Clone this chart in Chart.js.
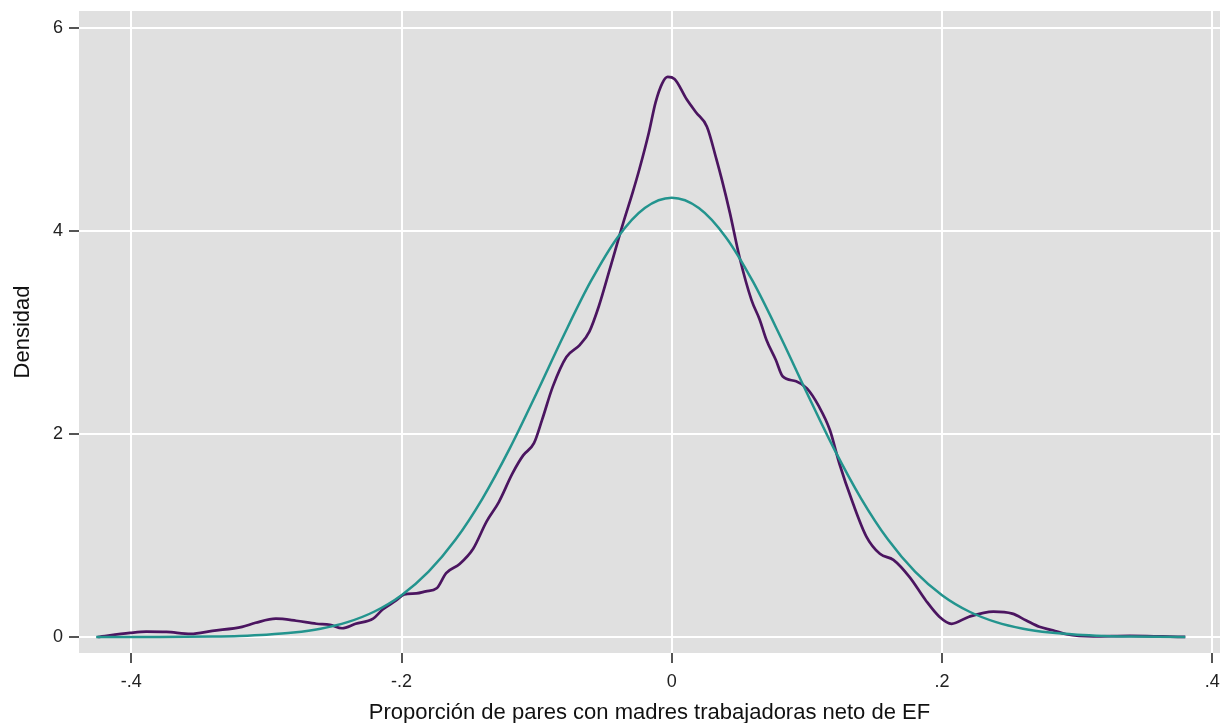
<!DOCTYPE html>
<html>
<head>
<meta charset="utf-8">
<script src="https://cdn.jsdelivr.net/npm/chart.js@4"></script>
<style>
  html, body { margin: 0; padding: 0; background: #fff; }
  #densCanvas { display: block; }
</style>
</head>
<body>
<canvas id="densCanvas" width="1220" height="723"></canvas>
<script>
/* ── Data ────────────────────────────────────────── */

// Kernel density of the share
const kdensX = [
  -0.425, -0.401, -0.389, -0.374, -0.356, -0.340, -0.318, -0.308, -0.293, -0.278,
  -0.263, -0.253, -0.244, -0.234, -0.221, -0.214, -0.204, -0.198, -0.189, -0.182,
  -0.174, -0.167, -0.157, -0.147, -0.137, -0.128, -0.118, -0.110, -0.102, -0.096,
  -0.088, -0.078, -0.068, -0.061, -0.054, -0.046, -0.036, -0.029, -0.024, -0.017,
  -0.012, -0.007, -0.003,  0.002,  0.011,  0.018,  0.026,  0.033,  0.037,  0.043,
   0.050,  0.059,  0.065,  0.070,  0.077,  0.082,  0.092,  0.100,  0.109,  0.117,
   0.124,  0.134,  0.144,  0.154,  0.164,  0.176,  0.188,  0.198,  0.207,  0.220,
   0.238,  0.252,  0.262,  0.272,  0.282,  0.292,  0.312,  0.339,  0.363,  0.380,
];
const kdensY = [
  0.00, 0.04, 0.053, 0.05, 0.03, 0.06, 0.10, 0.14, 0.18, 0.16,
  0.13, 0.12, 0.086, 0.13, 0.18, 0.27, 0.36, 0.42, 0.43, 0.45,
  0.48, 0.63, 0.72, 0.87, 1.14, 1.33, 1.61, 1.79, 1.91, 2.14,
  2.47, 2.76, 2.88, 3.01, 3.26, 3.62, 4.08, 4.38, 4.61, 4.97,
  5.27, 5.46, 5.52, 5.50, 5.30, 5.17, 5.03, 4.71, 4.51, 4.18,
  3.75, 3.32, 3.13, 2.93, 2.73, 2.57, 2.52, 2.45, 2.27, 2.04,
  1.71, 1.32, 0.99, 0.82, 0.76, 0.59, 0.36, 0.20, 0.13, 0.20,
  0.25, 0.23, 0.165, 0.10, 0.066, 0.027, 0.005, 0.01, 0.005, 0.00,
];

// Normal density overlay
const normX = [
  -0.426, -0.42, -0.40, -0.38, -0.36, -0.34, -0.32, -0.30, -0.28, -0.26,
  -0.24, -0.22, -0.20, -0.18, -0.16, -0.14, -0.12, -0.10, -0.08, -0.06,
  -0.04, -0.02, 0.00, 0.02, 0.04, 0.06, 0.08, 0.10, 0.12, 0.14,
  0.16, 0.18, 0.20, 0.22, 0.24, 0.26, 0.28, 0.30, 0.32, 0.34,
  0.36, 0.38,
];
const normY = [
  0.0000, 0.0001, 0.0004, 0.0009, 0.0021, 0.0048, 0.0105, 0.022, 0.043, 0.081,
  0.146, 0.251, 0.412, 0.644, 0.960, 1.367, 1.856, 2.405, 2.972, 3.504,
  3.941, 4.229, 4.330, 4.229, 3.941, 3.504, 2.972, 2.405, 1.856, 1.367,
  0.960, 0.644, 0.412, 0.251, 0.146, 0.081, 0.043, 0.022, 0.0105, 0.0048,
  0.0021, 0.0009,
];

// Axis ticks
const xTickVals   = [-0.4, -0.2, 0, 0.2, 0.4];
const xTickLabels = ['-.4', '-.2', '0', '.2', '.4'];
const yTickVals   = [0, 2, 4, 6];
const yTickLabels = ['0', '2', '4', '6'];

/* ── Chart ───────────────────────────────────────── */

const FONT = '"Liberation Sans", Arial, sans-serif';
const TICK_COL = '#555';

const plotBg = {
  id: 'plotBg',
  beforeDraw: (chart) => {
    const { ctx, chartArea: a } = chart;
    ctx.save();
    ctx.fillStyle = '#fff';
    ctx.fillRect(0, 0, chart.width, chart.height);
    ctx.fillStyle = '#e0e0e0';
    ctx.fillRect(a.left, a.top, a.right - a.left, a.bottom - a.top);
    ctx.restore();
  },
};

const toPts = (xs, ys) => xs.map((x, i) => ({ x, y: ys[i] }));

new Chart(document.getElementById('densCanvas'), {
  type: 'line',
  plugins: [plotBg],
  data: {
    datasets: [
      {
        label: 'Normal',
        data: toPts(normX, normY),
        borderColor: '#23948e',
        borderWidth: 2.5,
        pointRadius: 0,
        cubicInterpolationMode: 'monotone',
        order: 0,
      },
      {
        label: 'Kernel',
        data: toPts(kdensX, kdensY),
        borderColor: '#4b1560',
        borderWidth: 2.7,
        pointRadius: 0,
        cubicInterpolationMode: 'monotone',
        order: 1,
      },
    ],
  },
  options: {
    responsive: false,
    animation: false,
    devicePixelRatio: 1,
    layout: { padding: { top: 11, right: 0, left: 0, bottom: 0 } },
    scales: {
      x: {
        type: 'linear',
        min: -0.4387, max: 0.4057,
        afterFit: (s) => { s.height = 70; s.paddingLeft = 0; s.paddingRight = 0; },
        afterBuildTicks: (s) => { s.ticks = xTickVals.map(v => ({ value: v })); },
        border: { display: false },
        grid: { color: '#fff', lineWidth: 2, tickColor: TICK_COL, tickLength: 10, tickWidth: 2 },
        ticks: {
          color: '#222', padding: 8,
          font: { family: FONT, size: 18 },
          callback: (v) => xTickLabels[xTickVals.indexOf(v)] ?? '',
        },
        title: {
          display: true,
          text: 'Proporción de pares con madres trabajadoras neto de EF',
          color: '#111',
          font: { family: FONT, size: 22 },
          padding: { top: 0, bottom: -3 },
        },
      },
      y: {
        min: -0.158, max: 6.17,
        afterFit: (s) => { s.width = 79; s.paddingTop = 0; s.paddingBottom = 0; },
        afterBuildTicks: (s) => { s.ticks = yTickVals.map(v => ({ value: v })); },
        border: { display: false },
        grid: { color: '#fff', lineWidth: 2, tickColor: TICK_COL, tickLength: 10, tickWidth: 2 },
        ticks: {
          color: '#222', padding: 6,
          font: { family: FONT, size: 18 },
          callback: (v) => yTickLabels[yTickVals.indexOf(v)] ?? '',
        },
        title: {
          display: true,
          text: 'Densidad',
          color: '#111',
          font: { family: FONT, size: 22 },
          padding: { top: 10, bottom: 0 },
        },
      },
    },
    plugins: {
      legend:  { display: false },
      tooltip: { enabled: false },
    },
  },
});
</script>
</body>
</html>
